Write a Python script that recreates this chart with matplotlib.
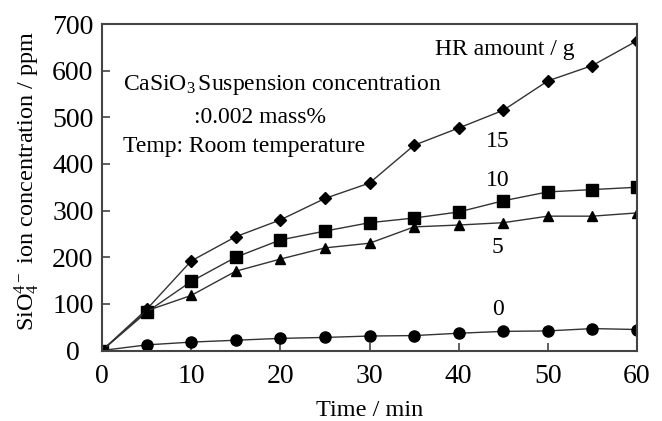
import matplotlib
matplotlib.use("Agg")
import matplotlib.pyplot as plt

plt.rcParams['font.family'] = ['Liberation Serif', 'DejaVu Serif']
plt.rcParams['mathtext.fontset'] = 'custom'
plt.rcParams['mathtext.rm'] = 'Liberation Serif'
plt.rcParams['mathtext.it'] = 'Liberation Serif:italic'

time_min = [0, 5, 10, 15, 20, 25, 30, 35, 40, 45, 50, 55, 60]
hr_15 = [0, 88, 192, 244, 280, 326, 359, 440, 477, 515, 578, 611, 664]
hr_10 = [0, 82, 148, 200, 237, 256, 274, 284, 297, 321, 340, 345, 350]
hr_5 = [0, 85, 118, 170, 196, 220, 230, 265, 269, 274, 288, 288, 295]
hr_0 = [0, 12, 18, 22, 26, 28, 31, 32, 37, 41, 42, 47, 45]

series_labels = ['15', '10', '5', '0']
label_pos = [(44.4, 449), (44.4, 365), (44.4, 220), (44.4, 87)]

fig = plt.figure(figsize=(6.62, 4.21), dpi=100)
ax = fig.add_axes([102 / 662, 1 - 350.5 / 421, 535 / 662, 326.5 / 421])

line_kw = dict(color='#333333', linewidth=1.0, markeredgecolor='black', markerfacecolor='black')
ax.plot(time_min, hr_15, marker='D', markersize=6.5, **line_kw)
ax.plot(time_min, hr_10, marker='s', markersize=9, **line_kw)
ax.plot(time_min, hr_5, marker='^', markersize=7.5, **line_kw)
ax.plot(time_min, hr_0, marker='o', markersize=8, **line_kw)

for lbl, (x, y) in zip(series_labels, label_pos):
    ax.text(x, y, lbl, fontsize=17, ha='center', va='center')

ax.text(37.3, 646, 'HR amount / g', fontsize=17, va='center')
ax.text(2.4, 569, r'CaSiO$_3$$\,$Suspension concentration', fontsize=17, va='center')
ax.text(10.3, 500, ':0.002 mass%', fontsize=17, va='center')
ax.text(2.4, 438, 'Temp: Room temperature', fontsize=17, va='center')

ax.set_xlim(0, 60)
ax.set_ylim(0, 700)
ax.set_xticks(range(0, 61, 10))
ax.set_yticks(range(0, 701, 100))
ax.tick_params(direction='in', length=6, width=1.2, color='#444444', labelsize=20)
ax.tick_params(axis='x', pad=10)
ax.tick_params(axis='y', pad=21)
for t in ax.get_yticklabels():
    t.set_horizontalalignment('center')
for sp in ax.spines.values():
    sp.set_color('#444444')
    sp.set_linewidth(1.5)

ax.set_xlabel('Time / min', fontsize=17.5)
ax.xaxis.set_label_coords(0.5, -0.152)
ax.set_ylabel(r'SiO$_4^{4-}$ ion concentration / ppm', fontsize=17.5)
ax.yaxis.set_label_coords(-0.112, 0.52)

fig.savefig('out.png', dpi=100)
